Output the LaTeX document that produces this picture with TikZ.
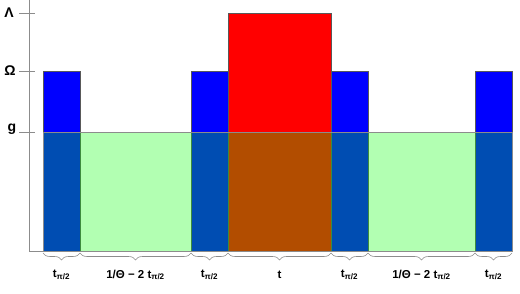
\documentclass[tikz,border=0pt]{standalone}
\usepackage{fontspec}
\setmainfont{Liberation Sans}
\usetikzlibrary{decorations.pathreplacing}
\definecolor{pulseblue}{HTML}{0000FF}
\definecolor{pulsered}{HTML}{FF0000}
\definecolor{bandgreen}{HTML}{00FF00}
\definecolor{axisgray}{HTML}{8C8C8C}
\newcommand{\tpihalf}{t\textsubscript{π/2}}
\begin{document}
\begin{tikzpicture}[x=1pt,y=-1pt,font=\bfseries\fontsize{11.5}{13}\selectfont,
    bar/.style={draw=black!65,line width=0.5pt},
    band/.style={draw=axisgray,fill=bandgreen,fill opacity=0.3,line width=0.5pt},
    bracedown/.style={draw=axisgray,line width=0.6pt,decorate,
                      decoration={brace,mirror,amplitude=7pt}},
    ticklbl/.style={font=\bfseries\fontsize{14}{16}\selectfont},
    axisline/.style={draw=axisgray,line width=0.6pt}]
  \useasboundingbox (0,0) rectangle (520,294);
  % column edges and levels
  \coordinate (c0) at (43,251);  \coordinate (c1) at (80,251);
  \coordinate (c2) at (191,251); \coordinate (c3) at (228,251);
  \coordinate (c4) at (331,251); \coordinate (c5) at (368,251);
  \coordinate (c6) at (475,251); \coordinate (c7) at (512,251);
  % axis with ticks
  \draw[axisline] (29,0) -- (29,251) -- (c7);
  \draw[axisline] (19,13) -- (35,13);
  \draw[axisline] (19,71) -- (35,71);
  \draw[axisline] (19,132) -- (35,132);
  \node[ticklbl] (lam) at (9,13) {Λ};
  \node[ticklbl] (om) at (10,71) {Ω};
  \node[ticklbl] (gg) at (12,129) {g};
  % pulses
  \draw[bar,fill=pulseblue] (c0) rectangle (80,71);
  \draw[bar,fill=pulseblue] (c2) rectangle (228,71);
  \draw[bar,fill=pulsered]  (c3) rectangle (331,13);
  \draw[bar,fill=pulseblue] (c4) rectangle (368,71);
  \draw[bar,fill=pulseblue] (c6) rectangle (512,71);
  % coupling band
  \draw[band] (c0) rectangle (512,132);
  % durations
  \draw[bracedown] ([yshift=-2pt]c0) -- ([yshift=-2pt]c1)
    node[midway,yshift=-22pt] (d1) {\tpihalf};
  \draw[bracedown] ([yshift=-2pt]c1) -- ([yshift=-2pt]c2)
    node[midway,yshift=-22pt] (d2) {1/Θ − 2 \tpihalf};
  \draw[bracedown] ([yshift=-2pt]c2) -- ([yshift=-2pt]c3)
    node[midway,yshift=-22pt] (d3) {\tpihalf};
  \draw[bracedown] ([yshift=-2pt]c3) -- ([yshift=-2pt]c4)
    node[midway,yshift=-22pt] (d4) {t};
  \draw[bracedown] ([yshift=-2pt]c4) -- ([yshift=-2pt]c5)
    node[midway,yshift=-22pt] (d5) {\tpihalf};
  \draw[bracedown] ([yshift=-2pt]c5) -- ([yshift=-2pt]c6)
    node[midway,yshift=-22pt] (d6) {1/Θ − 2 \tpihalf};
  \draw[bracedown] ([yshift=-2pt]c6) -- ([yshift=-2pt]c7)
    node[midway,yshift=-22pt] (d7) {\tpihalf};
\end{tikzpicture}
\end{document}
